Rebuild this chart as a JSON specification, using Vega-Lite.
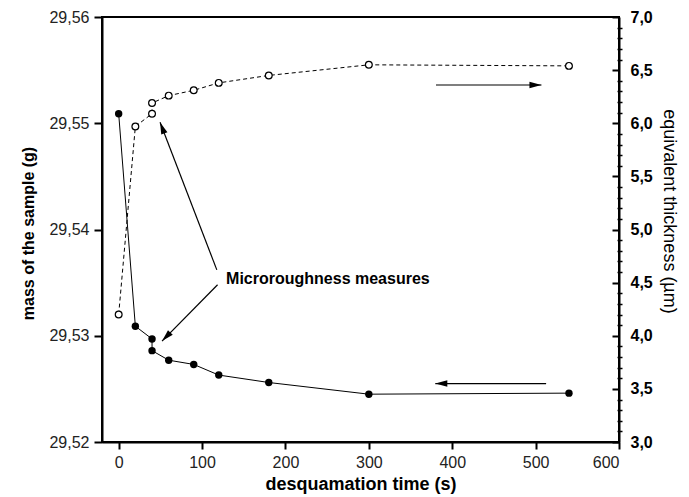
{
  "$schema": "https://vega.github.io/schema/vega-lite/v6.json",
  "width": 517,
  "height": 425,
  "autosize": {"type": "none"},
  "padding": {"left": 102, "top": 17, "right": 70, "bottom": 55},
  "background": "white",
  "config": {
    "font": "Liberation Sans",
    "view": {"stroke": "black", "strokeWidth": 2},
    "axis": {"grid": false, "domainColor": "black", "domainWidth": 2, "tickColor": "black", "tickWidth": 2, "labelFont": "Liberation Sans", "titleFont": "Liberation Sans"}
  },
  "datasets": {
    "mass": [
      {"i": 1, "t": 0, "m": 29.5509},
      {"i": 2, "t": 20, "m": 29.5309},
      {"i": 3, "t": 40, "m": 29.5297},
      {"i": 4, "t": 40, "m": 29.5286},
      {"i": 5, "t": 60, "m": 29.5277},
      {"i": 6, "t": 90, "m": 29.5273},
      {"i": 7, "t": 120, "m": 29.5263},
      {"i": 8, "t": 180, "m": 29.5256},
      {"i": 9, "t": 300, "m": 29.5245},
      {"i": 10, "t": 540, "m": 29.5246}
    ],
    "thick": [
      {"i": 1, "t": 0, "h": 4.2},
      {"i": 2, "t": 20, "h": 5.97},
      {"i": 3, "t": 40, "h": 6.09},
      {"i": 4, "t": 40, "h": 6.19},
      {"i": 5, "t": 60, "h": 6.26},
      {"i": 6, "t": 90, "h": 6.31},
      {"i": 7, "t": 120, "h": 6.38},
      {"i": 8, "t": 180, "h": 6.45},
      {"i": 9, "t": 300, "h": 6.55},
      {"i": 10, "t": 540, "h": 6.54}
    ],
    "arrows": [
      {"t": 117.7, "m": 29.5362, "t2": 49.6, "m2": 29.5501},
      {"t": 118.6, "m": 29.5348, "t2": 52.0, "m2": 29.5295},
      {"t": 380.5, "m": 29.5536, "t2": 507, "m2": 29.5536},
      {"t": 512.6, "m": 29.5255, "t2": 379.7, "m2": 29.5255}
    ]
  },
  "encoding": {
    "x": {
      "field": "t",
      "type": "quantitative",
      "scale": {"domain": [-20, 600], "nice": false, "zero": false},
      "axis": {
        "orient": "bottom",
        "values": [0, 100, 200, 300, 400, 500, 600],
        "format": "d",
        "title": "desquamation time (s)",
        "titleFontSize": 18,
        "titleFontWeight": "bold",
        "titleColor": "black",
        "titleY": 33,
        "labelFontSize": 16,
        "labelColor": "#222",
        "tickSize": 7,
        "labelPadding": 5
      }
    }
  },
  "layer": [
    {
      "encoding": {
        "y": {
          "field": "m",
          "type": "quantitative",
          "scale": {"domain": [29.52, 29.56], "nice": false, "zero": false},
          "axis": {
            "orient": "left",
            "values": [29.52, 29.53, 29.54, 29.55, 29.56],
            "labelExpr": "replace(format(datum.value, '.2f'), '.', ',')",
            "title": "mass of the sample (g)",
            "titleFontSize": 16,
            "titleFontWeight": "bold",
            "titleColor": "black",
            "titleAngle": 270,
            "titleBaseline": "bottom",
            "titleAlign": "center",
            "titleX": -66,
            "titleY": 216,
            "labelFontSize": 16,
            "labelColor": "#222",
            "tickSize": 8,
            "labelPadding": 5
          }
        }
      },
      "layer": [
        {
          "data": {"name": "mass"},
          "mark": {"type": "line", "color": "black", "strokeWidth": 1},
          "encoding": {"order": {"field": "i", "type": "quantitative"}}
        },
        {
          "data": {"name": "mass"},
          "mark": {"type": "point", "filled": true, "color": "black", "size": 55, "opacity": 1}
        },
        {
          "data": {"name": "arrows"},
          "mark": {"type": "rule", "color": "black", "strokeWidth": 1.2},
          "encoding": {"x2": {"field": "t2"}, "y2": {"field": "m2"}}
        },
        {
          "data": {"values": [{"t": 49.6, "m": 29.5501}]},
          "mark": {"type": "point", "shape": "M0,0L-0.55,2L0.55,2Z", "filled": true, "color": "black", "size": 144, "angle": 339, "opacity": 1}
        },
        {
          "data": {"values": [{"t": 52.0, "m": 29.5295}]},
          "mark": {"type": "point", "shape": "M0,0L-0.55,2L0.55,2Z", "filled": true, "color": "black", "size": 144, "angle": 224, "opacity": 1}
        },
        {
          "data": {"values": [{"t": 507, "m": 29.5536}]},
          "mark": {"type": "point", "shape": "M0,0L-0.55,2L0.55,2Z", "filled": true, "color": "black", "size": 144, "angle": 90, "opacity": 1}
        },
        {
          "data": {"values": [{"t": 379.7, "m": 29.5255}]},
          "mark": {"type": "point", "shape": "M0,0L-0.55,2L0.55,2Z", "filled": true, "color": "black", "size": 144, "angle": 270, "opacity": 1}
        },
        {
          "data": {"values": [{"t": 128.8, "m": 29.5353, "label": "Microroughness measures"}]},
          "mark": {"type": "text", "align": "left", "baseline": "middle", "font": "Liberation Sans", "fontSize": 16, "fontWeight": "bold", "color": "black"},
          "encoding": {"text": {"field": "label"}}
        }
      ]
    },
    {
      "data": {"name": "thick"},
      "encoding": {
        "y": {
          "field": "h",
          "type": "quantitative",
          "scale": {"domain": [3, 7], "nice": false, "zero": false},
          "axis": {
            "orient": "right",
            "values": [3, 3.5, 4, 4.5, 5, 5.5, 6, 6.5, 7],
            "labelExpr": "replace(format(datum.value, '.1f'), '.', ',')",
            "title": "equivalent thickness (µm)",
            "titleFontSize": 18,
            "titleFontWeight": "normal",
            "titleColor": "black",
            "titleAngle": 90,
            "titleBaseline": "bottom",
            "titleAlign": "center",
            "titleX": 40,
            "titleY": 194,
            "labelFontSize": 16,
            "labelFontWeight": "bold",
            "labelColor": "black",
            "tickSize": -7,
            "labelPadding": 18
          }
        }
      },
      "layer": [
        {
          "mark": {"type": "line", "color": "black", "strokeWidth": 1, "strokeDash": [4, 3]},
          "encoding": {"order": {"field": "i", "type": "quantitative"}}
        },
        {
          "mark": {"type": "point", "filled": true, "fill": "white", "stroke": "black", "strokeWidth": 1.2, "size": 46, "opacity": 1}
        }
      ]
    },
    {
      "data": {"name": "thick"},
      "mark": {"type": "point", "opacity": 0},
      "encoding": {
        "y": {
          "field": "h",
          "type": "quantitative",
          "scale": {"domain": [3, 7], "nice": false, "zero": false},
          "axis": {
            "orient": "right",
            "values": [3.1, 3.2, 3.3, 3.4, 3.6, 3.7, 3.8, 3.9, 4.1, 4.2, 4.3, 4.4, 4.6, 4.7, 4.8, 4.9, 5.1, 5.2, 5.3, 5.4, 5.6, 5.7, 5.8, 5.9, 6.1, 6.2, 6.3, 6.4, 6.6, 6.7, 6.8, 6.9],
            "labels": false,
            "domain": false,
            "title": null,
            "tickSize": 5,
            "tickWidth": 1.5,
            "offset": -2
          }
        }
      }
    }
  ],
  "resolve": {"scale": {"y": "independent"}, "axis": {"y": "independent"}}
}
